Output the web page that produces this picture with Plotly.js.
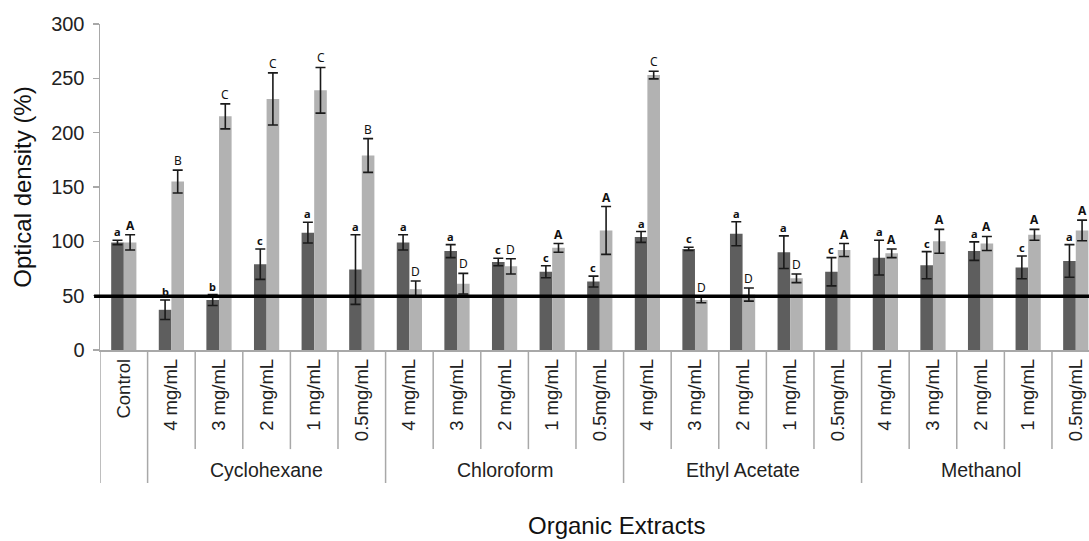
<!DOCTYPE html>
<html>
<head>
<meta charset="utf-8">
<script src="https://cdn.plot.ly/plotly-3.0.1.min.js"></script>
<style>html,body{margin:0;padding:0;background:#fff;}#chart{width:1089px;height:541px;}</style>
</head>
<body>
<div id="chart"></div>
<script>
// ---- data ----
const categories = ['Control','4 mg/mL','3 mg/mL','2 mg/mL','1 mg/mL','0.5mg/mL',
  '4 mg/mL','3 mg/mL','2 mg/mL','1 mg/mL','0.5mg/mL',
  '4 mg/mL','3 mg/mL','2 mg/mL','1 mg/mL','0.5mg/mL',
  '4 mg/mL','3 mg/mL','2 mg/mL','1 mg/mL','0.5mg/mL'];
const extractGroup = ['', 'Cyclohexane','Cyclohexane','Cyclohexane','Cyclohexane','Cyclohexane',
  'Chloroform','Chloroform','Chloroform','Chloroform','Chloroform',
  'Ethyl Acetate','Ethyl Acetate','Ethyl Acetate','Ethyl Acetate','Ethyl Acetate',
  'Methanol','Methanol','Methanol','Methanol','Methanol'];
const darkValues = [99, 37, 46, 79, 108, 74, 99, 91, 81, 72, 63, 104, 93, 107, 90, 72, 85, 78, 91, 76, 82];
const darkErrors = [2, 9, 5, 14, 9.5, 32, 7, 6, 3.5, 5.5, 5, 5, 1.5, 11, 15, 13, 16, 12.5, 8.5, 10.5, 15];
const lightValues = [99, 155, 215, 231, 239, 179, 56, 61, 77, 94, 110, 253, 46, 51, 66, 92, 89, 100, 98, 106, 110];
const lightErrors = [7, 10.5, 11.5, 24, 21, 15.5, 7.5, 9.5, 7, 4, 22, 3.5, 2.5, 6, 4, 6, 4, 11, 6.5, 5, 9.5];
const darkLetters = ['a','b','b','c','a','a','a','a','c','c','c','a','c','a','a','c','a','c','a','c','a'];
const lightLetters = ['A','B','C','C','C','B','D','D','D','A','A','C','D','D','D','A','A','A','A','A','A'];
const referenceLine = 49.5;
const xTitle = 'Organic Extracts';
const yTitle = 'Optical density (%)';

// ---- chart ----
const idx = categories.map((_, i) => i);
const bargap = 0.47;
const off = (1 - bargap) / 4;
const fontMain = 'Liberation Sans, Arial, sans-serif';
const fontLetters = 'Noto Sans, Open Sans, sans-serif';

const traces = [
  {type:'bar', x: idx, y: darkValues, marker:{color:'#5e5e5e'},
   error_y:{type:'data', array: darkErrors, visible:true, color:'#1a1a1a', thickness:1.6, width:5}},
  {type:'bar', x: idx, y: lightValues, marker:{color:'#b2b2b2'},
   error_y:{type:'data', array: lightErrors, visible:true, color:'#1a1a1a', thickness:1.6, width:5}}
];

const annotations = [];
idx.forEach(i => {
  annotations.push({xref:'x', yref:'y', x: i - off, y: darkValues[i] + darkErrors[i], text: '<b>' + darkLetters[i] + '</b>',
    showarrow:false, yanchor:'bottom', yshift:-1, font:{family:fontLetters, size:11, color:'#111'}});
  const lt = lightLetters[i] === 'A' ? '<b>A</b>' : lightLetters[i];
  annotations.push({xref:'x', yref:'y', x: i + off, y: lightValues[i] + lightErrors[i], text: lt,
    showarrow:false, yanchor:'bottom', yshift:-1, font:{family:fontLetters, size:12, color:'#111'}});
});

// group labels
const groupNames = [];
extractGroup.forEach(g => { if (g && !groupNames.includes(g)) groupNames.push(g); });
groupNames.forEach(g => {
  const members = idx.filter(i => extractGroup[i] === g);
  const cx = (members[0] + members[members.length - 1]) / 2;
  annotations.push({xref:'x', yref:'paper', x: cx, y: -0.369, text: g, showarrow:false,
    yanchor:'middle', font:{family:fontMain, size:19.5, color:'#222'}});
});
// x axis title
annotations.push({xref:'paper', yref:'paper', x: 0.522, y: -0.537, text: xTitle, showarrow:false,
  yanchor:'middle', xanchor:'center', font:{family:fontMain, size:24, color:'#111'}});

// separators
const shapes = [];
idx.forEach(i => {
  const isGroupEdge = (i === 0) || extractGroup[i] !== extractGroup[i - 1];
  shapes.push({type:'line', xref:'x', yref:'paper', x0: i - 0.5, x1: i - 0.5, y0: 0, y1: isGroupEdge ? -0.408 : -0.304,
    line:{color:'#a8a8a8', width:1.5}});
});
shapes.push({type:'line', xref:'paper', yref:'y', x0: -0.006, x1: 1, y0: referenceLine, y1: referenceLine,
  line:{color:'#000', width:3.5}});

const layout = {
  width:1089, height:541,
  margin:{l:100, r:0, t:24, b:191},
  paper_bgcolor:'#fff', plot_bgcolor:'#fff',
  showlegend:false,
  barmode:'group', bargap: bargap, bargroupgap: 0,
  xaxis:{range:[-0.5, 20.278], tickmode:'array', tickvals: idx, ticktext: categories, tickangle:-90,
    showline:true, linecolor:'#a8a8a8', linewidth:1.5, ticks:'', showgrid:false, zeroline:false,
    tickfont:{family:fontMain, size:18.5, color:'#222'}},
  yaxis:{range:[0,300], dtick:50, ticks:'outside', ticklen:6, tickcolor:'#a8a8a8', tickwidth:1.5,
    showline:true, linecolor:'#a8a8a8', linewidth:1.5, showgrid:false, zeroline:false,
    ticklabelstandoff:4,
    tickfont:{family:fontMain, size:20, color:'#222'},
    title:{text: yTitle, font:{family:fontMain, size:24, color:'#111'}, standoff:12}},
  annotations: annotations,
  shapes: shapes
};

Plotly.newPlot('chart', traces, layout, {displayModeBar:false, staticPlot:true});
</script>
</body>
</html>
